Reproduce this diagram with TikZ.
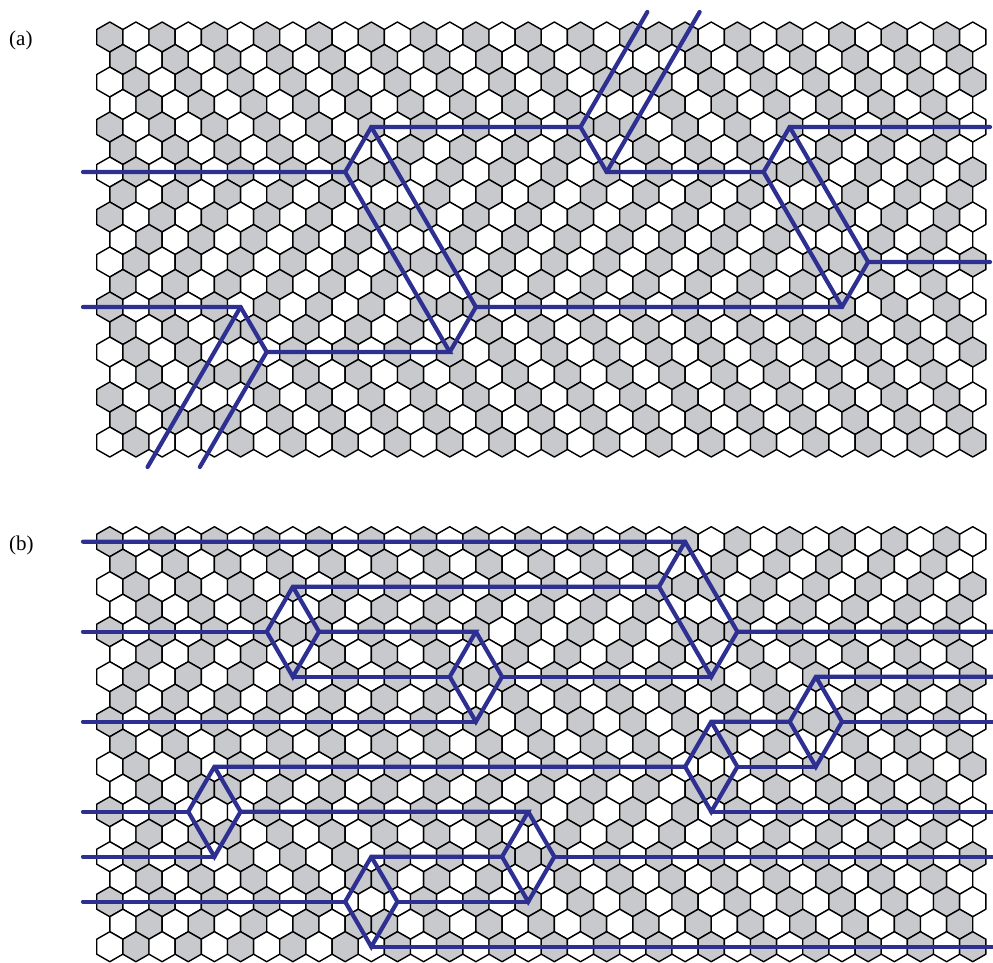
\documentclass[tikz,border=0pt]{standalone}
\usepackage{fontspec}
\setmainfont{Liberation Serif}
\definecolor{hexgray}{RGB}{200,201,204}
\definecolor{wallblue}{RGB}{45,48,145}
% flipped cells (relative to the basic stripe pattern), per panel and row: lo/hi ranges of u
\expandafter\def\csname fa0\endcsname{42/42}
\expandafter\def\csname fa1\endcsname{41/41}
\expandafter\def\csname fa2\endcsname{40/40}
\expandafter\def\csname fa3\endcsname{39/39}
\expandafter\def\csname fa4\endcsname{38/38}
\expandafter\def\csname fa5\endcsname{21/37,53/65}
\expandafter\def\csname fa6\endcsname{20/20,52/52}
\expandafter\def\csname fa7\endcsname{1/19,23/51,55/65}
\expandafter\def\csname fa8\endcsname{22/22,54/54}
\expandafter\def\csname fa9\endcsname{1/21,25/53,57/65}
\expandafter\def\csname fa10\endcsname{24/24,56/56}
\expandafter\def\csname fa11\endcsname{1/23,27/55}
\expandafter\def\csname fa12\endcsname{26/26}
\expandafter\def\csname fa13\endcsname{11/25}
\expandafter\def\csname fa14\endcsname{10/10}
\expandafter\def\csname fa15\endcsname{9/9}
\expandafter\def\csname fa16\endcsname{8/8}
\expandafter\def\csname fa17\endcsname{7/7}
\expandafter\def\csname fa18\endcsname{6/6}
\expandafter\def\csname fb0\endcsname{99/99}
\expandafter\def\csname fb1\endcsname{45/65}
\expandafter\def\csname fb2\endcsname{44/44}
\expandafter\def\csname fb3\endcsname{15/43,47/65}
\expandafter\def\csname fb4\endcsname{14/14,46/46}
\expandafter\def\csname fb5\endcsname{1/13,29/45}
\expandafter\def\csname fb6\endcsname{28/28}
\expandafter\def\csname fb7\endcsname{1/27,55/65}
\expandafter\def\csname fb8\endcsname{54/54}
\expandafter\def\csname fb9\endcsname{47/53}
\expandafter\def\csname fb10\endcsname{46/46}
\expandafter\def\csname fb11\endcsname{9/45}
\expandafter\def\csname fb12\endcsname{8/8}
\expandafter\def\csname fb13\endcsname{1/7,33/65}
\expandafter\def\csname fb14\endcsname{32/32}
\expandafter\def\csname fb15\endcsname{21/31}
\expandafter\def\csname fb16\endcsname{20/20}
\expandafter\def\csname fb17\endcsname{1/19}
\expandafter\def\csname fb18\endcsname{99/99}
\begin{document}
\begin{tikzpicture}[x=1pt,y=-1pt,
  declare function={hx(\k)=109.8+13.075*\k; hya(\k)=37+22.5*\k; hyb(\k)=541.7+22.5*\k;},
  hexg/.style={fill=hexgray,draw=black,line width=1.4pt,line join=round},
  hexw/.style={fill=white,draw=black,line width=1.4pt,line join=round},
  wall/.style={draw=wallblue,line width=4.2pt,line join=miter,line cap=round},
  lab/.style={font=\fontsize{21}{21}\selectfont,anchor=west,inner sep=0pt}]
\useasboundingbox (0,0) rectangle (993,963);
\newcommand\hexat[3]{\path[#3] (#1,#2-15) -- ++(13.075,7.5) -- ++(0,15) -- ++(-13.075,7.5) -- ++(-13.075,-7.5) -- ++(0,-15) -- cycle;}
\foreach \pan/\yo in {a/0,b/504.7}{
\foreach \rr in {0,...,18}{
  \pgfmathsetmacro\yy{37+22.5*\rr+\yo}
  \pgfmathtruncatemacro\odd{mod(\rr,2)}
  \pgfmathtruncatemacro\nc{33-\odd}
  \edef\fl{\csname f\pan\rr\endcsname}
  \foreach \cc in {0,...,\nc}{
    \pgfmathtruncatemacro\uu{2*\cc+\odd}
    \pgfmathsetmacro\xx{109.8+13.075*\uu}
    \pgfmathtruncatemacro\aa{mod((\uu-\rr)/2+100,2)}
    \gdef\flp{0}
    \foreach \lo/\hi in \fl {\ifnum\uu<\lo\relax\else\ifnum\uu>\hi\relax\else\gdef\flp{1}\fi\fi}
    \pgfmathtruncatemacro\gg{mod(\aa+\flp,2)}
    \ifnum\gg=0 \hexat{\xx}{\yy}{hexg}\else\hexat{\xx}{\yy}{hexw}\fi
  }
}}
\node[lab] (la) at (9,40) {(a)};
\node[lab] (lb) at (9,545) {(b)};
% panel (a) walls
\coordinate (aL6) at (83,{hya(6)});
\coordinate (aJ1) at ({hx(18)},{hya(6)});
\coordinate (aJ2) at ({hx(20)},{hya(4)});
\coordinate (aJ3) at ({hx(36)},{hya(4)});
\coordinate (aJ4) at ({hx(38)},{hya(6)});
\coordinate (aJ5) at ({hx(50)},{hya(6)});
\coordinate (aJ6) at ({hx(52)},{hya(4)});
\coordinate (aR4) at (990,{hya(4)});
\coordinate (aJ7) at ({hx(26)},{hya(14)});
\coordinate (aJ8) at ({hx(28)},{hya(12)});
\coordinate (aJ9) at ({hx(56)},{hya(12)});
\coordinate (aJ10) at ({hx(58)},{hya(10)});
\coordinate (aR10) at (990,{hya(10)});
\coordinate (aT1) at ({hx(41.111)},12);
\coordinate (aT2) at ({hx(45.111)},12);
\coordinate (aJ11) at ({hx(12)},{hya(14)});
\coordinate (aJ12) at ({hx(10)},{hya(12)});
\coordinate (aL12) at (83,{hya(12)});
\coordinate (aB1) at ({hx(2.889)},467);
\coordinate (aB2) at ({hx(6.889)},467);
\draw[wall] (aL6) -- (aJ1) -- (aJ2) -- (aJ3) -- (aJ4) -- (aJ5) -- (aJ6) -- (aR4);
\draw[wall] (aJ1) -- (aJ7) -- (aJ11) -- (aJ12) -- (aL12);
\draw[wall] (aJ2) -- (aJ8) -- (aJ9) -- (aJ10) -- (aR10);
\draw[wall] (aJ3) -- (aT1);
\draw[wall] (aJ4) -- (aT2);
\draw[wall] (aJ5) -- (aJ9);
\draw[wall] (aJ6) -- (aJ10);
\draw[wall] (aJ7) -- (aJ8);
\draw[wall] (aJ12) -- (aB1);
\draw[wall] (aJ11) -- (aB2);
% panel (b) walls
\coordinate (b0L) at (83,{hyb(0)});
\coordinate (b0A) at ({hx(44)},{hyb(0)});
\coordinate (b2A) at ({hx(14)},{hyb(2)});
\coordinate (b2B) at ({hx(42)},{hyb(2)});
\coordinate (b4L) at (83,{hyb(4)});
\coordinate (b4A) at ({hx(12)},{hyb(4)});
\coordinate (b4B) at ({hx(16)},{hyb(4)});
\coordinate (b4C) at ({hx(28)},{hyb(4)});
\coordinate (b4D) at ({hx(48)},{hyb(4)});
\coordinate (b4R) at (993,{hyb(4)});
\coordinate (b6A) at ({hx(14)},{hyb(6)});
\coordinate (b6B) at ({hx(26)},{hyb(6)});
\coordinate (b6C) at ({hx(30)},{hyb(6)});
\coordinate (b6D) at ({hx(46)},{hyb(6)});
\coordinate (b6E) at ({hx(54)},{hyb(6)});
\coordinate (b6R) at (993,{hyb(6)});
\coordinate (b8L) at (83,{hyb(8)});
\coordinate (b8A) at ({hx(28)},{hyb(8)});
\coordinate (b8B) at ({hx(46)},{hyb(8)});
\coordinate (b8C) at ({hx(52)},{hyb(8)});
\coordinate (b8D) at ({hx(56)},{hyb(8)});
\coordinate (b8R) at (993,{hyb(8)});
\coordinate (b10A) at ({hx(8)},{hyb(10)});
\coordinate (b10B) at ({hx(44)},{hyb(10)});
\coordinate (b10C) at ({hx(48)},{hyb(10)});
\coordinate (b10D) at ({hx(54)},{hyb(10)});
\coordinate (b12L) at (83,{hyb(12)});
\coordinate (b12A) at ({hx(6)},{hyb(12)});
\coordinate (b12B) at ({hx(10)},{hyb(12)});
\coordinate (b12C) at ({hx(32)},{hyb(12)});
\coordinate (b12D) at ({hx(46)},{hyb(12)});
\coordinate (b12R) at (993,{hyb(12)});
\coordinate (b14L) at (83,{hyb(14)});
\coordinate (b14A) at ({hx(8)},{hyb(14)});
\coordinate (b14B) at ({hx(20)},{hyb(14)});
\coordinate (b14C) at ({hx(30)},{hyb(14)});
\coordinate (b14D) at ({hx(34)},{hyb(14)});
\coordinate (b14R) at (993,{hyb(14)});
\coordinate (b16L) at (83,{hyb(16)});
\coordinate (b16A) at ({hx(18)},{hyb(16)});
\coordinate (b16B) at ({hx(22)},{hyb(16)});
\coordinate (b16C) at ({hx(32)},{hyb(16)});
\coordinate (b18A) at ({hx(20)},{hyb(18)});
\coordinate (b18R) at (993,{hyb(18)});
\draw[wall] (b0L) -- (b0A) -- (b4D) -- (b4R);
\draw[wall] (b0A) -- (b2B) -- (b6D) -- (b4D);
\draw[wall] (b2B) -- (b2A) -- (b4A) -- (b6A) -- (b4B) -- (b2A);
\draw[wall] (b4L) -- (b4A);
\draw[wall] (b4B) -- (b4C) -- (b6B) -- (b8A) -- (b6C) -- (b4C);
\draw[wall] (b6A) -- (b6B);
\draw[wall] (b6C) -- (b6D);
\draw[wall] (b8L) -- (b8A);
\draw[wall] (b6R) -- (b6E) -- (b8C) -- (b10D) -- (b8D) -- (b6E);
\draw[wall] (b8D) -- (b8R);
\draw[wall] (b8C) -- (b8B) -- (b10B) -- (b12D) -- (b10C) -- (b8B);
\draw[wall] (b10C) -- (b10D);
\draw[wall] (b12D) -- (b12R);
\draw[wall] (b10B) -- (b10A) -- (b12A) -- (b14A) -- (b12B) -- (b10A);
\draw[wall] (b12L) -- (b12A);
\draw[wall] (b14L) -- (b14A);
\draw[wall] (b12B) -- (b12C) -- (b14C) -- (b16C) -- (b14D) -- (b12C);
\draw[wall] (b14D) -- (b14R);
\draw[wall] (b14C) -- (b14B) -- (b16A) -- (b18A) -- (b16B) -- (b14B);
\draw[wall] (b16L) -- (b16A);
\draw[wall] (b16B) -- (b16C);
\draw[wall] (b18A) -- (b18R);
\end{tikzpicture}
\end{document}
